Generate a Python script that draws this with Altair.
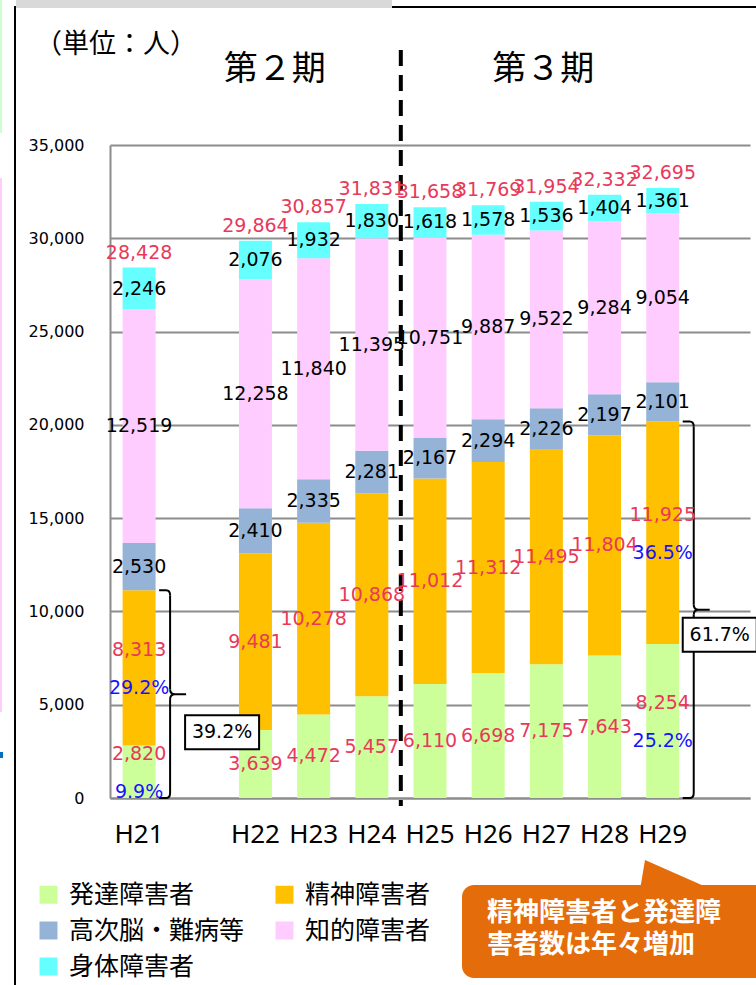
import altair as alt
import pandas as pd

# ---------------- data ----------------
categories = ["H21", "H22", "H23", "H24", "H25", "H26", "H27", "H28", "H29"]
slots = ["H21", " ", "H22", "H23", "H24", "H25", "H26", "H27", "H28", "H29", "  "]
series = ["発達障害者", "精神障害者", "高次脳・難病等", "知的障害者", "身体障害者"]
hattatsu = [2820, 3639, 4472, 5457, 6110, 6698, 7175, 7643, 8254]
seishin = [8313, 9481, 10278, 10868, 11012, 11312, 11495, 11804, 11925]
koujinou = [2530, 2410, 2335, 2281, 2167, 2294, 2226, 2197, 2101]
chiteki = [12519, 12258, 11840, 11395, 10751, 9887, 9522, 9284, 9054]
shintai = [2246, 2076, 1932, 1830, 1618, 1578, 1536, 1404, 1361]
pct_years = ["H21", "H29"]
periods = ["第２期", "第３期"]
unit_text = "（単位：人）"
callout_lines = ["精神障害者と発達障", "害者数は年々増加"]

colors = ["#ccff99", "#ffc000", "#95b3d7", "#ffccff", "#66ffff"]
RED = "#e8395a"
BLUE = "#1414ff"
GRID = "#8c8c8c"
NUMFONT = "DejaVu Sans"
JPFONT = "Noto Sans CJK JP"

values = [hattatsu, seishin, koujinou, chiteki, shintai]
totals = [sum(v[i] for v in values) for i in range(len(categories))]

rows = []
for i, c in enumerate(categories):
    base = 0
    for s, vals in zip(series, values):
        v = vals[i]
        rows.append({"cat": c, "series": s, "v": v, "y0": base, "y1": base + v,
                     "mid": base + v / 2, "label": f"{v:,}",
                     "pct": f"{v / totals[i] * 100:.1f}%"})
        base += v
df = pd.DataFrame(rows)
tot_df = pd.DataFrame({"cat": categories, "total": totals,
                       "label": [f"{t:,}" for t in totals]})

brace_rows = []
for c in pct_years:
    i = categories.index(c)
    hi = hattatsu[i] + seishin[i]
    brace_rows.append({"cat": c, "lo": 0, "hi": hi, "mid": hi / 2,
                       "label": f"{hi / totals[i] * 100:.1f}%"})
brace_df = pd.DataFrame(brace_rows)

red_series = series[:2]
black_df = df[~df.series.isin(red_series)]
red_df = df[df.series.isin(red_series) & ~df.cat.isin(pct_years)]
redp_df = df[df.series.isin(red_series) & df.cat.isin(pct_years)]

# ---------------- encodings ----------------
YS = alt.Scale(domain=[0, 35000], nice=False)
XS = alt.Scale(domain=slots, paddingInner=0.433, paddingOuter=0.2165)
X = alt.X("cat:N", scale=XS, sort=slots,
          axis=alt.Axis(title=None, labelAngle=0, ticks=False, labelFont="Noto Sans",
                        labelFontSize=26, labelColor="#000", labelPadding=23,
                        domainColor=GRID, domainWidth=2))
Xn = alt.X("cat:N", scale=XS, sort=slots, title=None)


def Yq(field):
    return alt.Y(field, scale=YS, title=None)


dummy = pd.DataFrame({"a": [0]})
layers = []

# frame decorations (slide edges)
layers.append(alt.Chart(dummy).mark_rect(color="#d9d9d9").encode(
    x=alt.value(-94), x2=alt.value(282), y=alt.value(-145), y2=alt.value(-137)))
layers.append(alt.Chart(dummy).mark_rule(color="#000", strokeWidth=2).encode(
    x=alt.value(282), x2=alt.value(650), y=alt.value(-138)))
layers.append(alt.Chart(dummy).mark_rule(color="#000", strokeWidth=2).encode(
    x=alt.value(-95), y=alt.value(-139), y2=alt.value(845)))
layers.append(alt.Chart(dummy).mark_rule(color="#ccffcc", strokeWidth=2).encode(
    x=alt.value(-109), y=alt.value(-145), y2=alt.value(-12)))
layers.append(alt.Chart(dummy).mark_rule(color="#ffccff", strokeWidth=2).encode(
    x=alt.value(-109), y=alt.value(33), y2=alt.value(567)))
layers.append(alt.Chart(dummy).mark_rule(color="#0070c0", strokeWidth=6).encode(
    x=alt.value(-110), x2=alt.value(-107), y=alt.value(610)))

# bars
layers.append(alt.Chart(df).mark_bar().encode(
    x=X,
    y=alt.Y("y0:Q", scale=YS, title=None,
            axis=alt.Axis(values=list(range(0, 35001, 5000)), format=",.0f", grid=True,
                          gridColor=GRID, gridWidth=2, domainColor=GRID, domainWidth=2,
                          ticks=False, labelFont=NUMFONT, labelFontSize=16,
                          labelColor="#000", labelPadding=26)),
    y2="y1:Q",
    color=alt.Color("series:N", scale=alt.Scale(domain=series, range=colors),
                    legend=alt.Legend(title=None, orient="none", legendX=-74, legendY=737,
                                      columns=2, direction="horizontal", symbolType="square",
                                      symbolSize=324, symbolStrokeWidth=0,
                                      labelFont=JPFONT, labelFontSize=25, labelColor="#000",
                                      labelOffset=8, columnPadding=27, rowPadding=10,
                                      labelLimit=400, padding=0)),
))

# dashed divider between periods
div_df = pd.DataFrame({"cat": ["H24"], "top": [35000], "bottom": [0]})
layers.append(alt.Chart(div_df).mark_rule(color="#000", strokeWidth=4, strokeDash=[16, 9],
                                          xOffset=29, yOffset=-95, y2Offset=8).encode(
    x=Xn, y=Yq("top:Q"), y2="bottom:Q"))

# braces
layers.append(alt.Chart(brace_df).mark_rule(color="#000", strokeWidth=2, xOffset=31,
                                            yOffset=5, y2Offset=-5).encode(
    x=Xn, y=Yq("hi:Q"), y2="mid:Q"))
layers.append(alt.Chart(brace_df).mark_rule(color="#000", strokeWidth=2, xOffset=31,
                                            yOffset=5, y2Offset=-5).encode(
    x=Xn, y=Yq("mid:Q"), y2="lo:Q"))
layers.append(alt.Chart(brace_df).mark_point(shape="M-0.6,0L0.1,0Q0.5,0 0.5,0.5", size=400,
                                             filled=False, color="#000", strokeWidth=2,
                                             opacity=1, xOffset=26).encode(
    x=Xn, y=Yq("hi:Q")))
layers.append(alt.Chart(brace_df).mark_point(shape="M-0.6,0L0.1,0Q0.5,0 0.5,-0.5", size=400,
                                             filled=False, color="#000", strokeWidth=2,
                                             opacity=1, xOffset=26).encode(
    x=Xn, y=Yq("lo:Q")))
layers.append(alt.Chart(brace_df).mark_point(shape="M0,-0.5Q0,0 0.5,0L1.6,0M0.5,0Q0,0 0,0.5",
                                             size=400, filled=False, color="#000",
                                             strokeWidth=2, opacity=1, xOffset=31).encode(
    x=Xn, y=Yq("mid:Q")))

# percentage boxes
box_off = {"H21": (83, 38), "H29": (57, 25)}
for c in pct_years:
    dx, dy = box_off[c]
    sub = brace_df[brace_df.cat == c]
    layers.append(alt.Chart(sub).mark_point(shape="M-1,-0.46H1V0.46H-1Z", size=74 ** 2,
                                            filled=True, fill="#fff", stroke="#000",
                                            strokeWidth=2, opacity=1,
                                            xOffset=dx, yOffset=dy).encode(
        x=Xn, y=Yq("mid:Q")))
    layers.append(alt.Chart(sub).mark_text(font=NUMFONT, fontSize=19, color="#000",
                                           dx=dx, dy=dy, baseline="middle").encode(
        x=Xn, y=Yq("mid:Q"), text="label:N"))

# value labels
layers.append(alt.Chart(black_df).mark_text(font=NUMFONT, fontSize=19, color="#000",
                                            baseline="middle").encode(
    x=Xn, y=Yq("mid:Q"), text="label:N"))
layers.append(alt.Chart(red_df).mark_text(font=NUMFONT, fontSize=19, color=RED,
                                          baseline="middle").encode(
    x=Xn, y=Yq("mid:Q"), text="label:N"))
layers.append(alt.Chart(redp_df).mark_text(font=NUMFONT, fontSize=19, color=RED,
                                           baseline="middle", dy=-18).encode(
    x=Xn, y=Yq("mid:Q"), text="label:N"))
layers.append(alt.Chart(redp_df).mark_text(font=NUMFONT, fontSize=19, color=BLUE,
                                           baseline="middle", dy=20).encode(
    x=Xn, y=Yq("mid:Q"), text="pct:N"))
layers.append(alt.Chart(tot_df).mark_text(font=NUMFONT, fontSize=19, color=RED,
                                          baseline="middle", dy=-15).encode(
    x=Xn, y=Yq("total:Q"), text="label:N"))

# period titles
period_pos = [("H23", -39), ("H27", -3)]
for (c, dx), t in zip(period_pos, periods):
    pdf = pd.DataFrame({"cat": [c], "y": [35000], "t": [t]})
    layers.append(alt.Chart(pdf).mark_text(font=JPFONT, fontSize=34, color="#000",
                                           baseline="middle", dx=dx, dy=-75).encode(
        x=Xn, y=Yq("y:Q"), text="t:N"))

# unit text
layers.append(alt.Chart(pd.DataFrame({"t": [unit_text]})).mark_text(
    font=JPFONT, fontSize=27, color="#000", baseline="middle").encode(
    x=alt.value(6), y=alt.value(-100), text="t:N"))

# callout
layers.append(alt.Chart(dummy).mark_rect(color="#e46c0a", cornerRadius=12).encode(
    x=alt.value(352), x2=alt.value(660), y=alt.value(740), y2=alt.value(833)))
layers.append(alt.Chart(dummy).mark_point(
    shape="M-0.863,-0.342L1,0.479L-1,0.479Z", size=73 ** 2, filled=True,
    color="#e46c0a", opacity=1, strokeWidth=0).encode(
    x=alt.value(566.5), y=alt.value(727.5)))
for k, line in enumerate(callout_lines):
    layers.append(alt.Chart(pd.DataFrame({"t": [line]})).mark_text(
        font=JPFONT, fontSize=26, fontWeight="bold", color="#fff", align="left",
        baseline="middle").encode(
        x=alt.value(377), y=alt.value(768 + 32 * k), text="t:N"))

chart = alt.layer(*layers).properties(
    width=640, height=653,
    padding={"left": 110, "top": 145, "right": 6, "bottom": 187},
    autosize=alt.AutoSizeParams(type="none"),
    background="#ffffff",
).configure_view(stroke=None)

chart.save("out.html", embed_options={"renderer": "svg", "actions": False})
